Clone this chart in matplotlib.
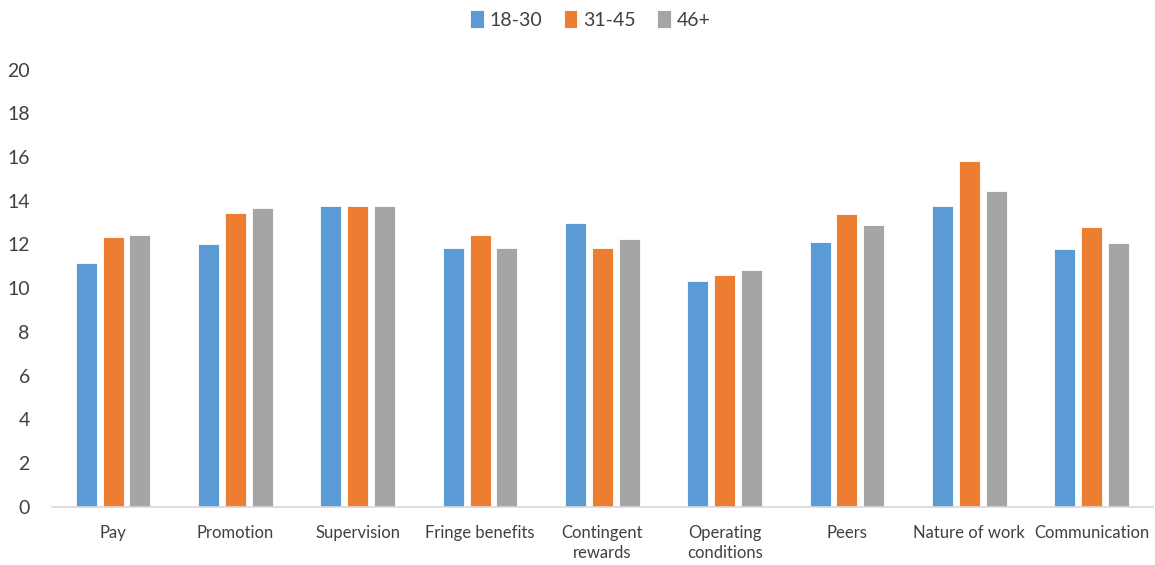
import matplotlib.pyplot as plt
import numpy as np

# datos
categorias = ["Pay", "Promotion", "Supervision", "Fringe benefits",
              "Contingent\nrewards", "Operating\nconditions", "Peers",
              "Nature of work", "Communication"]
grupos = ["18-30", "31-45", "46+"]
v_18_30 = [11.13, 12.03, 13.78, 11.86, 12.96, 10.34, 12.12, 13.74, 11.79]
v_31_45 = [12.32, 13.42, 13.76, 12.41, 11.85, 10.59, 13.38, 15.80, 12.79]
v_46 = [12.41, 13.69, 13.76, 11.82, 12.23, 10.83, 12.90, 14.44, 12.05]
colores = ["#5B9BD5", "#ED7D31", "#A5A5A5"]

plt.rcParams["font.family"] = ["Lato", "DejaVu Sans"]

fig = plt.figure(figsize=(11.55, 5.65), dpi=100)
ax = fig.add_axes([0.045, 0.1033, 0.953, 0.7734])

x = np.arange(len(categorias))
ancho = 0.172
paso = 0.219
for k, (vals, nombre, c) in enumerate(zip([v_18_30, v_31_45, v_46], grupos, colores)):
    ax.bar(x + (k - 1) * paso, vals, width=ancho, color=c, label=nombre,
           edgecolor="white", linewidth=0.6)

ax.set_xlim(-0.5, len(categorias) - 0.5)
ax.set_ylim(0, 20)
ax.set_yticks(range(0, 21, 2))
ax.set_xticks(x)
ax.set_xticklabels(categorias, fontsize=12, color="#404040", linespacing=1.35)
ax.tick_params(axis="y", labelsize=14, colors="#404040", length=0, pad=16)
ax.tick_params(axis="x", length=0, pad=13)
for s in ["top", "right", "left"]:
    ax.spines[s].set_visible(False)
ax.spines["bottom"].set_color("#D9D9D9")
ax.spines["bottom"].set_linewidth(1.2)

fig.legend(loc="upper center", bbox_to_anchor=(0.511, 1.014), ncol=3, frameon=False,
           fontsize=14, handlelength=0.7, handleheight=1.1, handletextpad=0.3,
           columnspacing=1.1, labelcolor="#404040")

fig.savefig("out.png", dpi=100)
